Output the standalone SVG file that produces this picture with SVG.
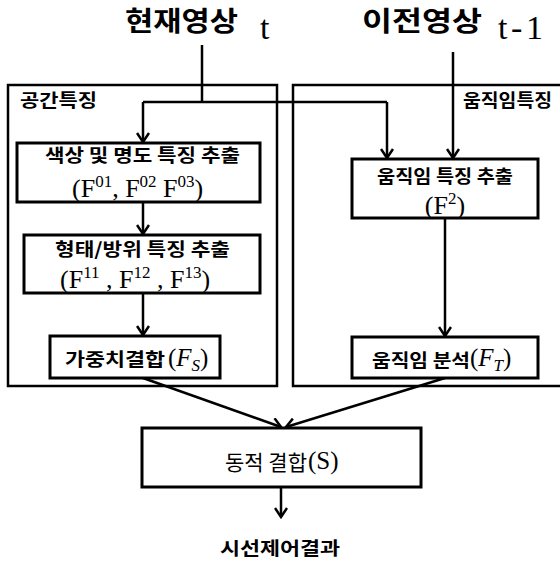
<svg xmlns="http://www.w3.org/2000/svg" width="560" height="563" viewBox="0 0 560 563">
  <style>
    .frame { fill: none; stroke: #000; stroke-width: 2.5; }
    .box { fill: #fff; stroke: #000; stroke-width: 3; }
    .wire { fill: none; stroke: #000; stroke-width: 2.5; }
    .ko { font-family: "Noto Sans CJK KR", "Noto Sans", sans-serif; font-weight: bold; fill: #000; }
    .ko-r { font-family: "Noto Sans CJK KR", "Noto Sans", sans-serif; fill: #000; }
    .math { font-family: "Liberation Serif", "DejaVu Serif", serif; fill: #000; }
  </style>
  <defs>
    <marker id="arrow" markerUnits="userSpaceOnUse" markerWidth="14" markerHeight="14" refX="11" refY="7" orient="auto">
      <path d="M2,1 L11,7 L2,13" fill="none" stroke="#000" stroke-width="2.5"/>
    </marker>
  </defs>

  <rect width="560" height="563" fill="#fff"/>

  <!-- input titles -->
  <g id="input-current">
    <text class="ko" x="125" y="31" font-size="27" textLength="113" lengthAdjust="spacingAndGlyphs">현재영상</text>
    <text class="math" x="260" y="39" font-size="34">t</text>
  </g>
  <g id="input-previous">
    <text class="ko" x="362" y="31" font-size="27" textLength="120" lengthAdjust="spacingAndGlyphs">이전영상</text>
    <text class="math" x="498" y="39" font-size="34" textLength="45" lengthAdjust="spacing">t-1</text>
  </g>

  <!-- feature group frames -->
  <g id="spatial-group">
    <rect class="frame" x="8" y="85" width="269" height="301"/>
    <text class="ko" x="20" y="107" font-size="18" textLength="77" lengthAdjust="spacingAndGlyphs">공간특징</text>
  </g>
  <g id="motion-group">
    <rect class="frame" x="293" y="85" width="280" height="301"/>
    <text class="ko" x="463" y="107" font-size="18" textLength="89" lengthAdjust="spacingAndGlyphs">움직임특징</text>
  </g>

  <!-- connectors -->
  <g id="connectors">
    <polyline class="wire" points="202,45 202,102"/>
    <polyline class="wire" points="143,102 387,102"/>
    <polyline class="wire" points="143,102 143,142" marker-end="url(#arrow)"/>
    <polyline class="wire" points="387,102 387,158" marker-end="url(#arrow)"/>
    <polyline class="wire" points="453,52 453,158" marker-end="url(#arrow)"/>
    <polyline class="wire" points="143,202 143,234" marker-end="url(#arrow)"/>
    <polyline class="wire" points="143,293 143,335" marker-end="url(#arrow)"/>
    <polyline class="wire" points="445,218 445,336" marker-end="url(#arrow)"/>
    <polyline class="wire" points="143,378 281,427" marker-end="url(#arrow)"/>
    <polyline class="wire" points="445,378 286,427" marker-end="url(#arrow)"/>
    <polyline class="wire" points="281,487 281,517" marker-end="url(#arrow)"/>
  </g>

  <!-- nodes -->
  <g id="color-brightness">
    <rect class="box" x="17" y="143" width="243" height="59"/>
    <text class="ko" x="45" y="162" font-size="18" textLength="195" lengthAdjust="spacingAndGlyphs">색상 및 명도 특징 추출</text>
    <text class="math" x="72" y="197" font-size="26">(F<tspan font-size="17" dy="-10">01</tspan><tspan dy="10">, F</tspan><tspan font-size="17" dy="-10">02</tspan><tspan dy="10"> F</tspan><tspan font-size="17" dy="-10">03</tspan><tspan dy="10">)</tspan></text>
  </g>

  <g id="shape-orientation">
    <rect class="box" x="24" y="235" width="236" height="58"/>
    <text class="ko" x="55" y="256" font-size="18" textLength="175" lengthAdjust="spacingAndGlyphs">형태/방위 특징 추출</text>
    <text class="math" x="60" y="288" font-size="26">(F<tspan font-size="17" dy="-10">11</tspan><tspan dy="10"> , F</tspan><tspan font-size="17" dy="-10">12</tspan><tspan dy="10"> , F</tspan><tspan font-size="17" dy="-10">13</tspan><tspan dy="10">)</tspan></text>
  </g>

  <g id="weighted-sum">
    <rect class="box" x="50" y="336" width="170" height="42"/>
    <text class="ko" x="65" y="366" font-size="18" textLength="100" lengthAdjust="spacingAndGlyphs">가중치결합</text>
    <text class="math" x="168" y="366" font-size="25">(<tspan font-style="italic">F</tspan><tspan font-size="17" font-style="italic" dy="5">S</tspan><tspan dy="-5">)</tspan></text>
  </g>

  <g id="motion-extract">
    <rect class="box" x="352" y="159" width="186" height="59"/>
    <text class="ko" x="377" y="183" font-size="18" textLength="136" lengthAdjust="spacingAndGlyphs">움직임 특징 추출</text>
    <text class="math" x="445" y="214" font-size="26" text-anchor="middle">(F<tspan font-size="17" dy="-10">2</tspan><tspan dy="10">)</tspan></text>
  </g>

  <g id="motion-analysis">
    <rect class="box" x="352" y="337" width="186" height="41"/>
    <text class="ko" x="372" y="367" font-size="18" textLength="98" lengthAdjust="spacingAndGlyphs">움직임 분석</text>
    <text class="math" x="470" y="366" font-size="25">(<tspan font-style="italic">F</tspan><tspan font-size="17" font-style="italic" dy="5">T</tspan><tspan dy="-5">)</tspan></text>
  </g>

  <g id="dynamic-fusion">
    <rect class="box" x="142" y="428" width="279" height="59"/>
    <text class="ko-r" x="225" y="470" font-size="21" textLength="82" lengthAdjust="spacingAndGlyphs">동적 결합</text>
    <text class="math" x="308" y="469" font-size="25">(S)</text>
  </g>

  <g id="gaze-result">
    <text class="ko" x="220" y="555" font-size="18" textLength="120" lengthAdjust="spacingAndGlyphs">시선제어결과</text>
  </g>
</svg>
